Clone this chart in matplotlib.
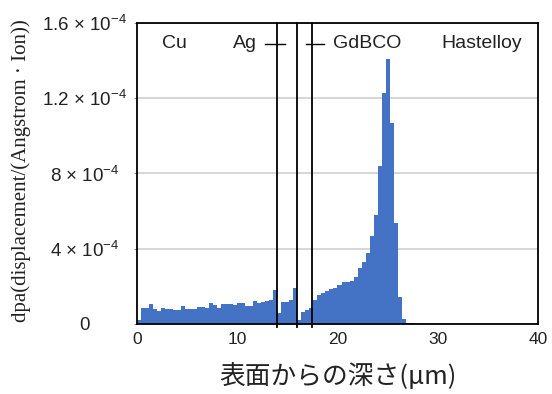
import numpy as np
import matplotlib
matplotlib.use("Agg")
import matplotlib.pyplot as plt

plt.rcParams['font.family'] = ['Liberation Sans', 'DejaVu Sans']
plt.rcParams['mathtext.fontset'] = 'custom'
plt.rcParams['mathtext.rm'] = 'Liberation Sans'
plt.rcParams['mathtext.it'] = 'Liberation Sans'

# damage profile, 0.4 um bins from the surface (units of 1e-4)
bin_width = 0.4
dpa = [0.02, 0.085, 0.085, 0.105, 0.08, 0.07, 0.087, 0.082, 0.082, 0.075,
       0.072, 0.096, 0.078, 0.08, 0.082, 0.088, 0.09, 0.087, 0.11, 0.10,
       0.087, 0.105, 0.105, 0.105, 0.10, 0.114, 0.112, 0.098, 0.098, 0.123,
       0.114, 0.118, 0.123, 0.128, 0.18, 0.06, 0.117, 0.115, 0.125, 0.19,
       0.02, 0.064, 0.075, 0.085, 0.128, 0.153, 0.167, 0.178, 0.185, 0.192,
       0.208, 0.222, 0.224, 0.226, 0.252, 0.297, 0.327, 0.377, 0.466, 0.58,
       0.84, 1.23, 1.41, 1.07, 0.537, 0.146, 0.027, 0.005, 0.003]

# layer boundaries (um)
boundaries = [14.0, 15.95, 17.45]

layer_names = ["Cu", "Ag", "GdBCO", "Hastelloy"]
layer_x = [3.75, 10.75, 22.95, 34.35]

yticks = [0, 0.4, 0.8, 1.2, 1.6]
ytick_labels = ["0", "4 × 10$^{-4}$", "8 × 10$^{-4}$",
                "1.2 × 10$^{-4}$", "1.6 × 10$^{-4}$"]
xticks = [0, 10, 20, 30, 40]

depth = np.arange(len(dpa)) * bin_width

fig = plt.figure(figsize=(5.52, 3.94), dpi=100)
ax = fig.add_axes([0.2482, 0.1777, 0.7264, 0.7639])

ax.bar(depth, dpa, width=bin_width, align='edge', color='#4472C4',
       linewidth=0, zorder=2)

for b in boundaries:
    ax.plot([b, b], [-0.015, 1.6], color='black', lw=1.3, clip_on=False,
            zorder=3)

ax.set_xlim(0, 40)
ax.set_ylim(0, 1.6)
ax.set_yticks(yticks)
ax.set_yticklabels(ytick_labels, ha='center')
ax.set_xticks(xticks)
ax.tick_params(axis='y', length=2, pad=36, labelsize=13.5, color='#888888')
ax.tick_params(axis='x', length=0, pad=6, labelsize=12.5)
for lab in ax.get_xticklabels() + ax.get_yticklabels():
    lab.set_color('#222222')

ax.grid(axis='y', color='#D0D0D0', lw=1.2, zorder=0)
ax.set_axisbelow(True)
for sp in ax.spines.values():
    sp.set_color('black')
    sp.set_linewidth(1.3)

# layer names and little leader marks
for name, x in zip(layer_names, layer_x):
    ax.text(x, 1.49, name, ha='center', va='center', fontsize=14,
            color='#222222')
ax.plot([12.75, 14.75], [1.49, 1.49], color='black', lw=1.0)
ax.plot([16.85, 18.65], [1.49, 1.49], color='black', lw=1.0)

ax.set_xlabel("表面からの深さ(μm)", fontsize=18.5, labelpad=11,
              family=['Noto Sans CJK JP', 'DejaVu Sans'], color='#222222')
ax.set_ylabel("dpa(displacement/(Angstrom · Ion))", fontsize=15,
              family=['Liberation Serif'], color='#222222')
ax.yaxis.set_label_coords(-0.265, 0.51)

fig.savefig("out.png", dpi=100)
